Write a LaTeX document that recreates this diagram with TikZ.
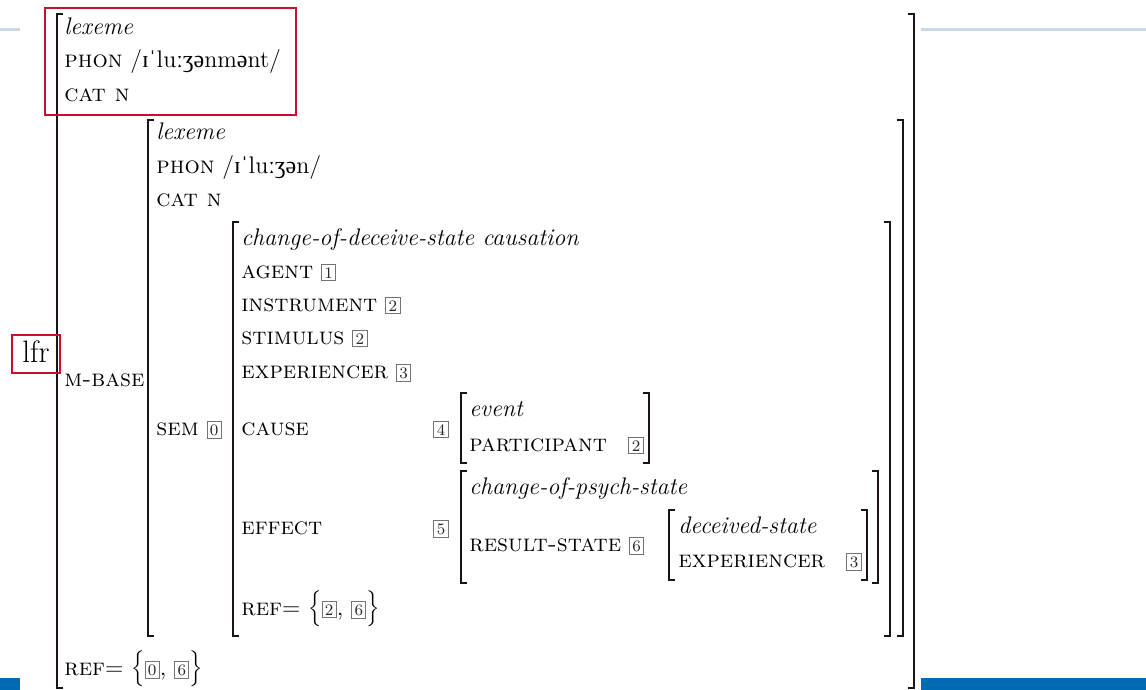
\documentclass[tikz,border=0pt]{standalone}
\usepackage{fontspec}
\newfontfamily\ipafont{Liberation Serif}
\definecolor{brk}{HTML}{1A1414}
\definecolor{markred}{HTML}{C8102E}
\definecolor{rulegray}{HTML}{C9D8E3}
\definecolor{slideblue}{HTML}{006AB4}
\newcommand{\avmtag}[1]{{\setlength{\fboxsep}{1.2pt}\setlength{\fboxrule}{0.5pt}\color{black!55}\fbox{\color{black!85}\footnotesize #1}}}
\newcommand{\ipa}[1]{{\ipafont\fontsize{12pt}{14pt}\selectfont #1}}
\tikzset{
	avm/.style={inner sep=0pt, anchor=base west, font=\fontsize{12pt}{14pt}\selectfont},
	bracket/.style={draw=brk, line width=0.8pt},
	markbox/.style={draw=markred, line width=0.9pt}
}
\begin{document}
\begin{tikzpicture}[x=0.5pt,y=-0.5pt]
	\def \h{6}
	\useasboundingbox (0,0) rectangle (1146,690);
	% slide decoration
	\draw[rulegray, line width=1.5pt] (0,30) -- (20,30);
	\draw[rulegray, line width=1.5pt] (921,30) -- (1146,30);
	\fill[slideblue] (0,678) rectangle (20,690);
	\fill[slideblue] (921,678) rectangle (1146,690);
	% brackets
	\draw[bracket] (57+\h,14) -- (57,14) -- (57,688) -- (57+\h,688);
	\draw[bracket] (914-\h,14) -- (914,14) -- (914,688) -- (914-\h,688);
	\draw[bracket] (148+\h,120) -- (148,120) -- (148,636) -- (148+\h,636);
	\draw[bracket] (903-\h,120) -- (903,120) -- (903,636) -- (903-\h,636);
	\draw[bracket] (233+\h,222) -- (233,222) -- (233,636) -- (233+\h,636);
	\draw[bracket] (890-\h,222) -- (890,222) -- (890,636) -- (890-\h,636);
	\draw[bracket] (461+\h,393) -- (461,393) -- (461,463) -- (461+\h,463);
	\draw[bracket] (649-\h,393) -- (649,393) -- (649,463) -- (649-\h,463);
	\draw[bracket] (461+\h,471) -- (461,471) -- (461,583) -- (461+\h,583);
	\draw[bracket] (878-\h,471) -- (878,471) -- (878,583) -- (878-\h,583);
	\draw[bracket] (669+\h,510) -- (669,510) -- (669,580) -- (669+\h,580);
	\draw[bracket] (867-\h,510) -- (867,510) -- (867,580) -- (867-\h,580);
	% lexeme
	\node[avm] (lexTop) at (64,35) {\textit{lexeme}};
	\node[avm] (phonTop) at (64,68) {\textsc{phon} /\ipa{ɪˈ}lu\ipa{ːʒə}nm\ipa{ə}nt/};
	\node[avm] (catTop) at (64,102) {\textsc{cat n}};
	\node[avm] (mbase) at (64,386) {\textsc{m-base}};
	\node[avm] (refTop) at (64,675) {\textsc{ref}= $\Big\{$\avmtag{0}, \avmtag{6}$\Big\}$};
	% m-base
	\node[avm] (lexBase) at (156,140) {\textit{lexeme}};
	\node[avm] (phonBase) at (156,173) {\textsc{phon} /\ipa{ɪˈ}lu\ipa{ːʒə}n/};
	\node[avm] (catBase) at (156,206) {\textsc{cat n}};
	\node[avm] (sem) at (156,435) {\textsc{sem} \avmtag{0}};
	% sem
	\node[avm] (semType) at (241,245) {\textit{change-of-deceive-state causation}};
	\node[avm] (agent) at (241,278) {\textsc{agent} \avmtag{1}};
	\node[avm] (instr) at (241,311) {\textsc{instrument} \avmtag{2}};
	\node[avm] (stim) at (241,344) {\textsc{stimulus} \avmtag{2}};
	\node[avm] (exper) at (241,378) {\textsc{experiencer} \avmtag{3}};
	\node[avm] (cause) at (241,435) {\textsc{cause}};
	\node[avm] (effect) at (241,534) {\textsc{effect}};
	\node[avm] (refSem) at (241,615) {\textsc{ref}= $\Big\{$\avmtag{2}, \avmtag{6}$\Big\}$};
	\node[avm] (tagCause) at (433,435) {\avmtag{4}};
	\node[avm] (tagEffect) at (433,534) {\avmtag{5}};
	% cause
	\node[avm] (event) at (469,416) {\textit{event}};
	\node[avm] (part) at (469,451) {\textsc{participant}};
	\node[avm] (tagPart) at (628,451) {\avmtag{2}};
	% effect
	\node[avm] (psych) at (469,494) {\textit{change-of-psych-state}};
	\node[avm] (result) at (469,551) {\textsc{result-state} \avmtag{6}};
	\node[avm] (deceived) at (678,533) {\textit{deceived-state}};
	\node[avm] (experIn) at (678,567) {\textsc{experiencer}};
	\node[avm] (tagExper) at (846,567) {\avmtag{3}};
	% marks
	\draw[markbox] (45,8) rectangle (296,115);
	\node[inner sep=0pt, anchor=base, font=\fontsize{15.5pt}{18pt}\selectfont] (lfr) at (36,362) {lfr};
	\draw[markbox] (12,335) rectangle (60,373);
\end{tikzpicture}
\end{document}
